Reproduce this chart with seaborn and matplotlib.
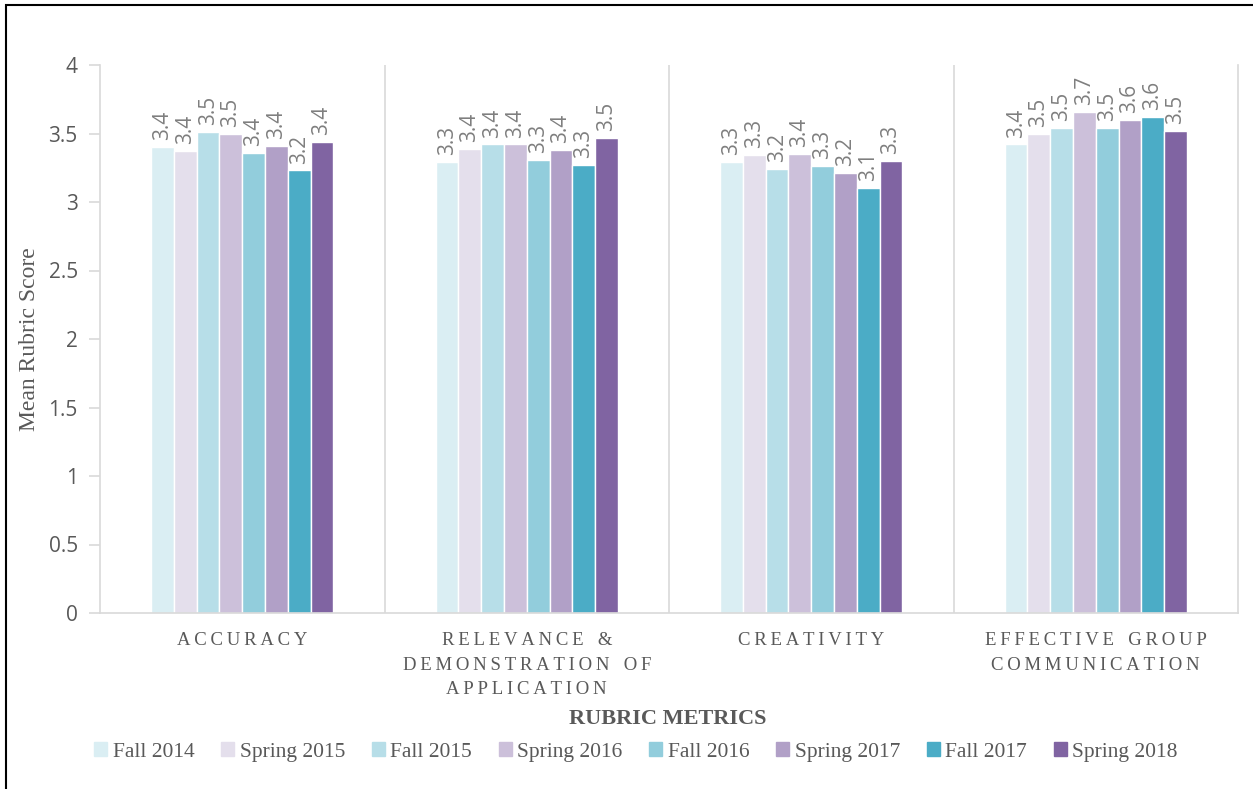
import pandas as pd
import matplotlib.pyplot as plt
import matplotlib.patches as mpatches
import seaborn as sns

# data
metrics = ["ACCURACY", "RELEVANCE & DEMONSTRATION OF APPLICATION", "CREATIVITY", "EFFECTIVE GROUP COMMUNICATION"]
metric_labels = ["ACCURACY", "RELEVANCE &\nDEMONSTRATION OF\nAPPLICATION", "CREATIVITY", "EFFECTIVE GROUP\nCOMMUNICATION"]
terms = ["Fall 2014", "Spring 2015", "Fall 2015", "Spring 2016", "Fall 2016", "Spring 2017", "Fall 2017", "Spring 2018"]
accuracy = [3.40, 3.37, 3.51, 3.50, 3.36, 3.41, 3.23, 3.44]
relevance = [3.29, 3.39, 3.42, 3.42, 3.31, 3.38, 3.27, 3.47]
creativity = [3.29, 3.34, 3.24, 3.35, 3.26, 3.21, 3.10, 3.30]
communication = [3.42, 3.50, 3.54, 3.66, 3.54, 3.60, 3.62, 3.52]
colors = ["#DAEEF3", "#E4DFEC", "#B7DEE8", "#CCC0DA", "#92CDDC", "#B1A0C7", "#4BACC6", "#8064A2"]

rows = []
for m, vals in zip(metrics, [accuracy, relevance, creativity, communication]):
    for t, v in zip(terms, vals):
        rows.append({"metric": m, "term": t, "score": v})
df = pd.DataFrame(rows)

sns.set_style("white")
SERIF = ["Liberation Serif", "DejaVu Serif"]
SANS = ["Open Sans", "DejaVu Sans"]
GRAY = "#595959"
LINE = "#D9D9D9"

fig = plt.figure(figsize=(12.53, 7.89), dpi=100)
ax = fig.add_axes([100 / 1253, 1 - 613 / 789, 1138 / 1253, 548 / 789])

sns.barplot(data=df, x="metric", y="score", hue="term", order=metrics, hue_order=terms,
            palette=colors, saturation=1, width=0.64, ax=ax, legend=True)

for c in ax.containers:
    ax.bar_label(c, fmt="%.1f", rotation=90, padding=5, color="#7F7F7F",
                 fontsize=15, family=SANS)

ax.set_ylim(0, 4)
ax.set_xlim(-0.5, 3.5)
ax.set_yticks([0, 0.5, 1, 1.5, 2, 2.5, 3, 3.5, 4])
ax.set_yticklabels(["0", "0.5", "1", "1.5", "2", "2.5", "3", "3.5", "4"], family=SANS,
                   fontsize=15, color=GRAY)
ax.tick_params(axis="y", length=8, color=LINE, width=1.2, pad=8, left=True)
ax.tick_params(axis="x", length=0, pad=14)

def spaced(s):
    return "\n".join("   ".join("\u2009".join(w) for w in line.split(" ")) for line in s.split("\n"))

ax.set_xticks(range(4))
ax.set_xticklabels([spaced(l) for l in metric_labels], family=SERIF, fontsize=13.5,
                   color=GRAY, linespacing=1.55)

for x in [0.5, 1.5, 2.5]:
    ax.axvline(x, color=LINE, lw=1.2, zorder=0)

ax.spines["top"].set_visible(False)
for s in ["left", "bottom", "right"]:
    ax.spines[s].set_color(LINE)
    ax.spines[s].set_linewidth(1.2)

ax.set_ylabel("Mean Rubric Score", family=SERIF, fontsize=17, color=GRAY, labelpad=6)
ax.set_xlabel("")
fig.text(668 / 1253, 1 - 719 / 789, "RUBRIC METRICS", family=SERIF, fontsize=16,
         fontweight="bold", color=GRAY, ha="center", va="center")

ax.get_legend().remove()
handles = [mpatches.Patch(color=c, label=t) for c, t in zip(colors, terms)]
leg = fig.legend(handles=handles, loc="center", bbox_to_anchor=(636 / 1253, 1 - 752 / 789),
                 ncol=8, frameon=False, prop={"family": SERIF, "size": 15.5},
                 handlelength=0.6, handleheight=0.6, handletextpad=0.25, columnspacing=1.25)
for t in leg.get_texts():
    t.set_color(GRAY)

# partial chart border (left/top visible)
fig.patches.append(mpatches.Rectangle((6 / 1253, -0.1), 1.2, 1.1 - 5 / 789,
                                      transform=fig.transFigure, fill=False,
                                      edgecolor="black", lw=1.5))

fig.savefig("out.png", dpi=100, facecolor="white")
